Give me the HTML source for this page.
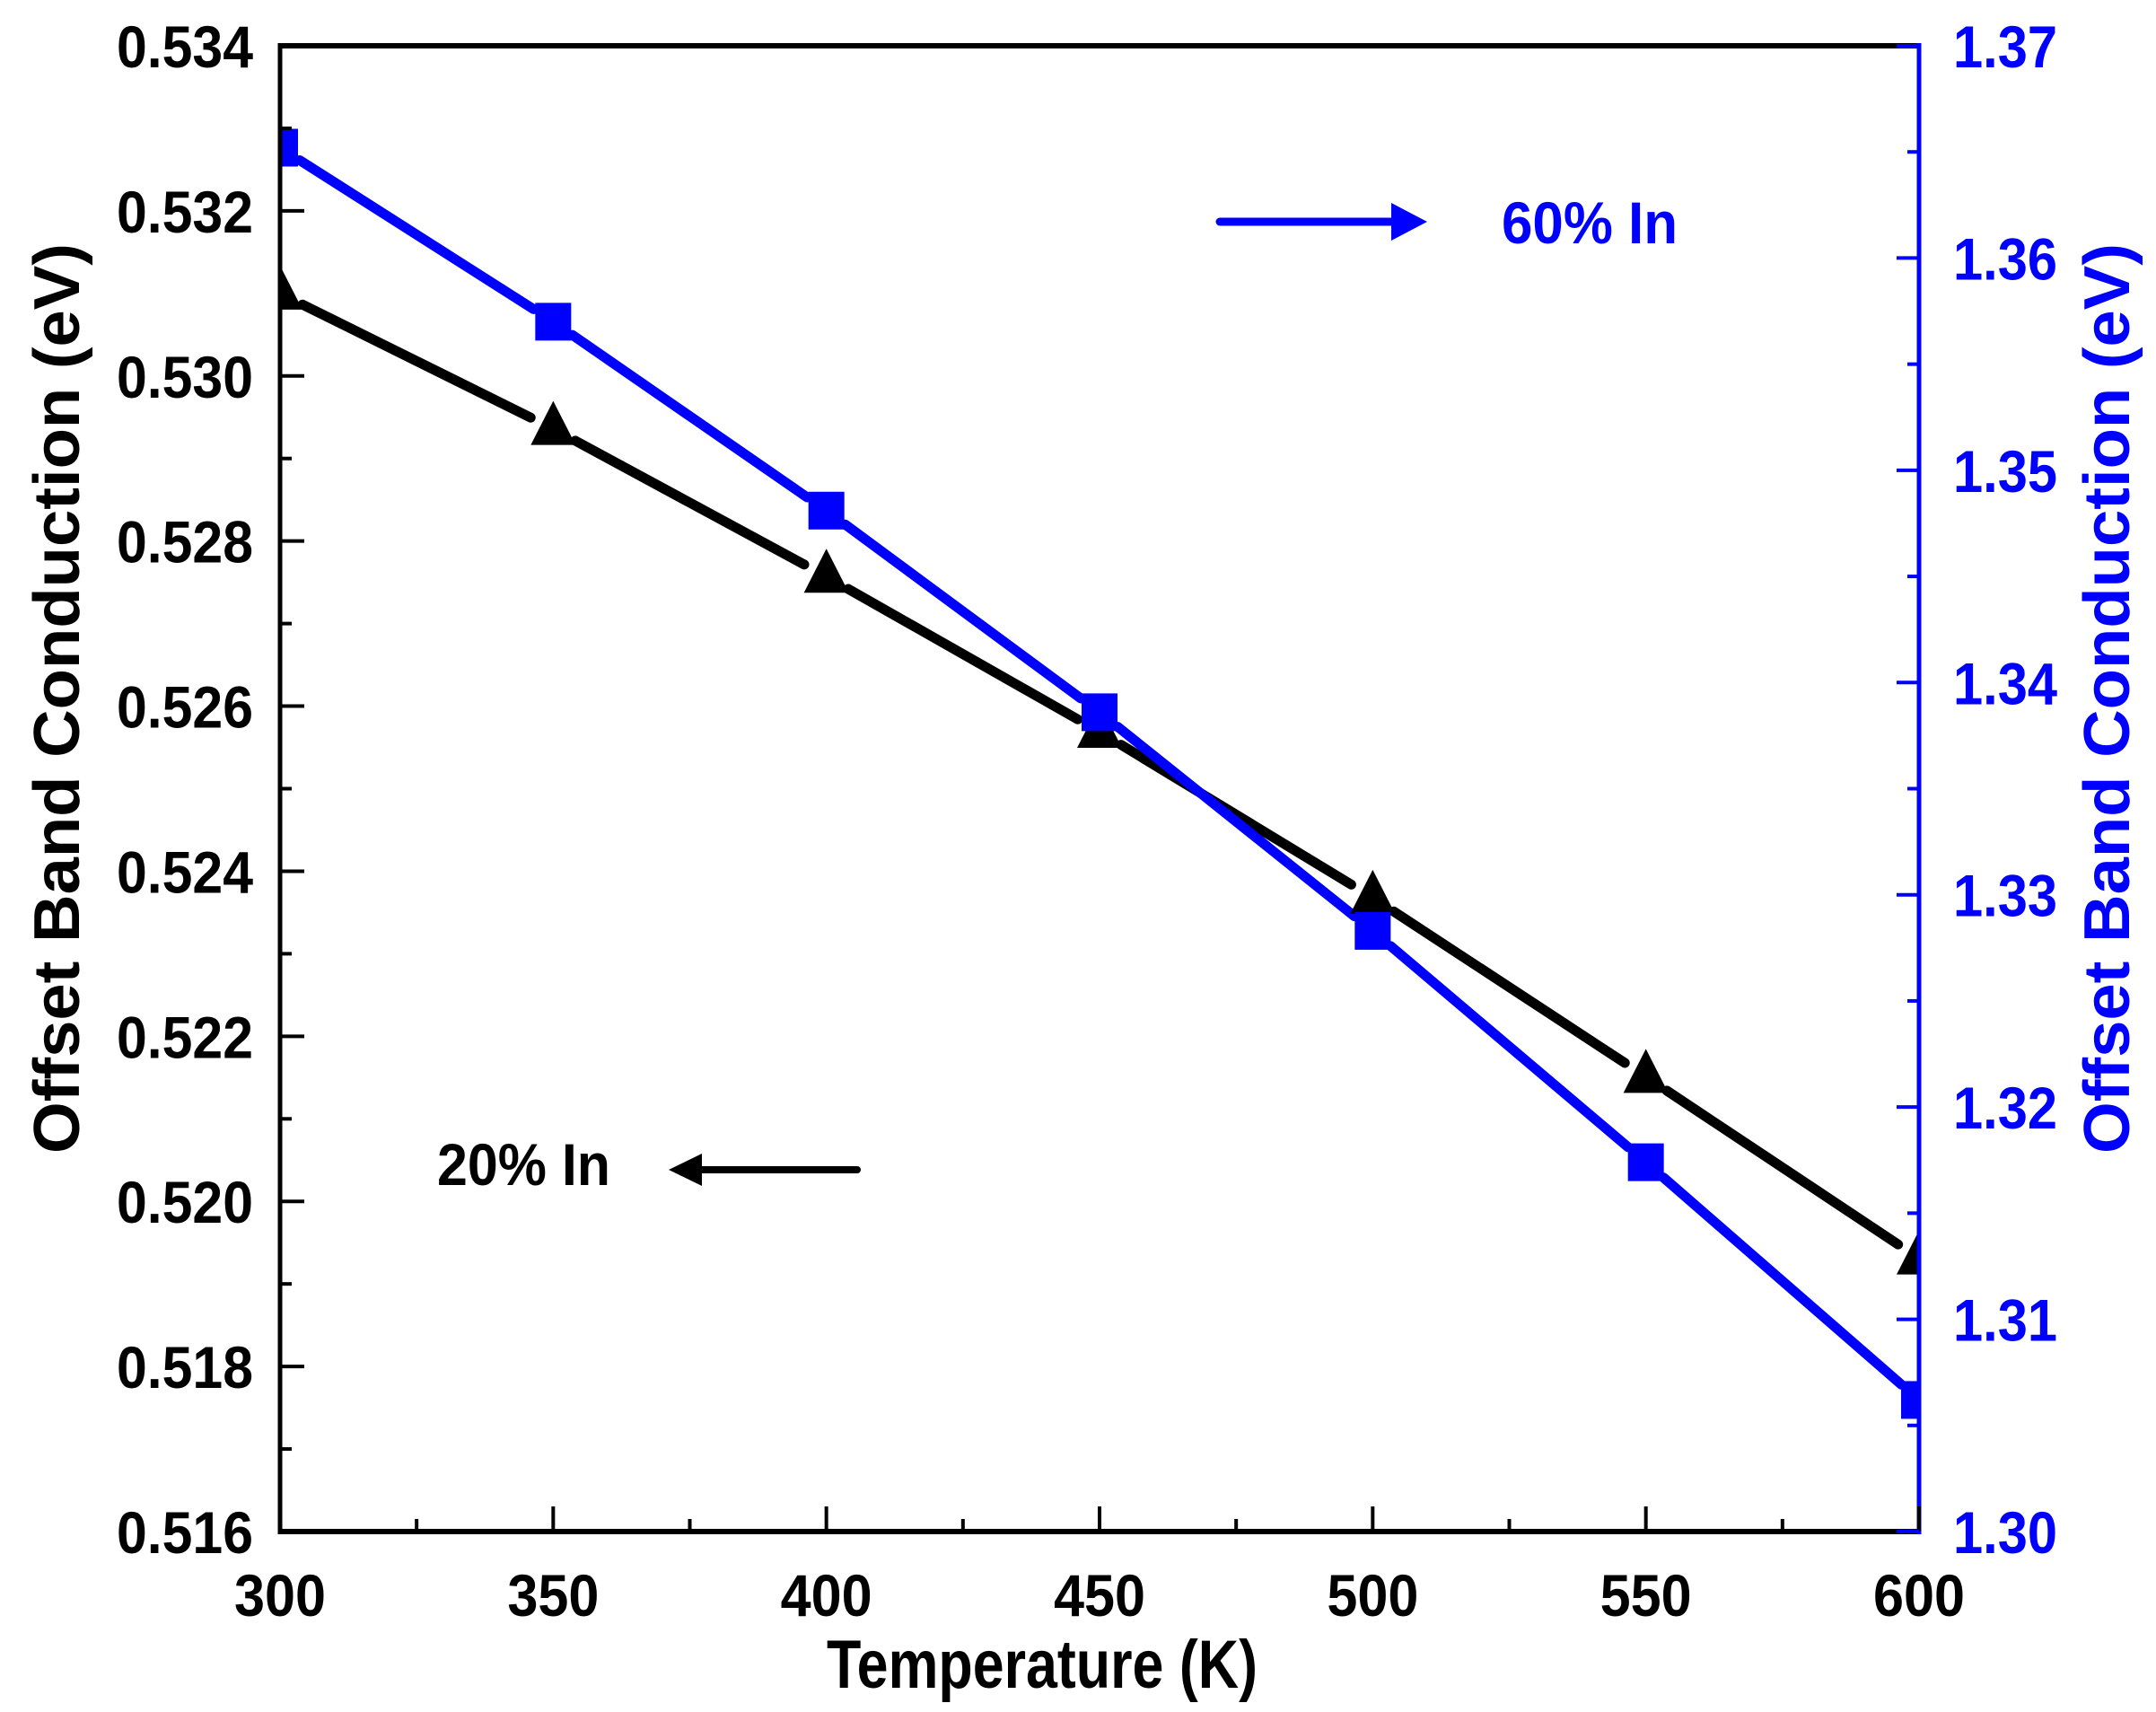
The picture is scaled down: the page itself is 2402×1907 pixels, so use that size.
<!DOCTYPE html>
<html><head><meta charset="utf-8"><style>
html,body{margin:0;padding:0;background:#fff;}
svg{display:block;}
text{font-family:"Liberation Sans Narrow","Liberation Sans",sans-serif;font-weight:bold;}
</style></head><body>
<svg id="chart" width="2402" height="1907" viewBox="0 0 2402 1907" xmlns="http://www.w3.org/2000/svg">
<g id="g"></g>
</svg>
<script>
const temps = [300, 350, 400, 450, 500, 550, 600];
const in20 = [0.53100, 0.52936, 0.52757, 0.52569, 0.52368, 0.52151, 0.51931];
const in60 = [1.3652, 1.3570, 1.3481, 1.3386, 1.3283, 1.3174, 1.3062];
const xTicks = ["300","350","400","450","500","550","600"];
const yLeftTicks = ["0.516","0.518","0.520","0.522","0.524","0.526","0.528","0.530","0.532","0.534"];
const yRightTicks = ["1.30","1.31","1.32","1.33","1.34","1.35","1.36","1.37"];

const L=312,R=2138,T=51,B=1706;
const NS="http://www.w3.org/2000/svg";
const g=document.getElementById('g');
function xs(v){return L+(v-300)/300*(R-L);}
function yl(v){return B-(v-0.516)/0.018*(B-T);}
function yr(v){return B-(v-1.30)/0.07*(B-T);}
function mk(tag,attrs,parent){const e=document.createElementNS(NS,tag);for(const k in attrs)e.setAttribute(k,attrs[k]);(parent||g).appendChild(e);return e;}

function drawSeries(vals,yf,color,gap,name){
  const grp=mk('g',{});
  
  
  for(let i=0;i<vals.length-1;i++){
    const x1=xs(temps[i]),y1=yf(vals[i]),x2=xs(temps[i+1]),y2=yf(vals[i+1]);
    const dx=x2-x1,dy=y2-y1,d=Math.hypot(dx,dy),ux=dx/d,uy=dy/d;
    const seg=mk('line',{x1:x1+ux*gap,y1:y1+uy*gap,x2:x2-ux*gap,y2:y2-uy*gap,stroke:color,'stroke-width':11,'stroke-linecap':'round'},grp);
    
    
  }
}
drawSeries(in20,yl,'#000',28,'in20');
drawSeries(in60,yr,'#0000ff',26,'in60');

temps.forEach((t,i)=>{
  const x=xs(t),y=yl(in20[i]);
  const p=mk('polygon',{points:`${x},${y-31} ${x-25},${y+18} ${x+25},${y+18}`,fill:'#000'});
  
  
});
temps.forEach((t,i)=>{
  const x=xs(t),y=yr(in60[i]);
  const r=mk('rect',{x:x-20,y:y-21,width:40,height:42,fill:'#0000ff'});
  
  
});

mk('rect',{x:0,y:0,width:L-2,height:1907,fill:'#fff'});
mk('rect',{x:R+2,y:0,width:300,height:1907,fill:'#fff'});

const ax=mk('g',{});


mk('line',{x1:L,y1:T,x2:R,y2:T,stroke:'#000','stroke-width':6},ax);
mk('line',{x1:L,y1:B,x2:R,y2:B,stroke:'#000','stroke-width':6},ax);
mk('line',{x1:L,y1:T-3,x2:L,y2:B+3,stroke:'#000','stroke-width':5},ax);
mk('line',{x1:R,y1:T-3,x2:R,y2:B+3,stroke:'#0000ff','stroke-width':5},ax);

for(let v=300;v<=600;v+=25){
  const major=(v%50===0);
  mk('line',{x1:xs(v),y1:B,x2:xs(v),y2:B-(major?28:14),stroke:'#000','stroke-width':4});
}
xTicks.forEach(s=>{
  const t=mk('text',{x:xs(+s),y:1800,'text-anchor':'middle','font-size':66,fill:'#000',textLength:102,lengthAdjust:'spacingAndGlyphs'});
  t.textContent=s;
  
  
});
for(let i=0;i<=18;i++){
  const v=0.516+i*0.001,major=(i%2===0);
  mk('line',{x1:L,y1:yl(v),x2:L+(major?27:13),y2:yl(v),stroke:'#000','stroke-width':4});
}
yLeftTicks.forEach(s=>{
  const t=mk('text',{x:282,y:yl(+s)+24,'text-anchor':'end','font-size':66,fill:'#000',textLength:152,lengthAdjust:'spacingAndGlyphs'});
  t.textContent=s;
  
  
});
for(let i=0;i<=14;i++){
  const v=1.30+i*0.005,major=(i%2===0);
  mk('line',{x1:R,y1:yr(v),x2:R-(major?25:13),y2:yr(v),stroke:'#0000ff','stroke-width':4});
}
yRightTicks.forEach(s=>{
  const t=mk('text',{x:2176,y:yr(+s)+24,'text-anchor':'start','font-size':66,fill:'#0000ff',textLength:116,lengthAdjust:'spacingAndGlyphs'});
  t.textContent=s;
  
  
});
</script>
<svg style="position:absolute;left:0;top:0" width="2402" height="1907" xmlns="http://www.w3.org/2000/svg">
<text x="1161" y="1880" text-anchor="middle" font-size="76" fill="#000" textLength="480" lengthAdjust="spacingAndGlyphs">Temperature (K)</text>
<text transform="translate(88,778) rotate(-90)" text-anchor="middle" font-size="72" fill="#000" textLength="1014" lengthAdjust="spacingAndGlyphs" style="font-family:'Liberation Sans',sans-serif">Offset Band Conduction (eV)</text>
<text transform="translate(2372,778) rotate(-90)" text-anchor="middle" font-size="72" fill="#0000ff" textLength="1014" lengthAdjust="spacingAndGlyphs" style="font-family:'Liberation Sans',sans-serif">Offset Band Conduction (eV)</text>
<g>
<line x1="1359" y1="247" x2="1565" y2="247" stroke="#0000ff" stroke-width="9" stroke-linecap="round"/>
<polygon points="1550,226 1590,247 1550,268" fill="#0000ff"/>
<text x="1673" y="271" font-size="66" fill="#0000ff" textLength="196" lengthAdjust="spacingAndGlyphs">60% In</text>
</g>
<g>
<line x1="955" y1="1303" x2="770" y2="1303" stroke="#000" stroke-width="8" stroke-linecap="round"/>
<polygon points="782,1285 745,1303 782,1321" fill="#000"/>
<text x="487" y="1320" font-size="66" fill="#000" textLength="193" lengthAdjust="spacingAndGlyphs">20% In</text>
</g>
</svg>
</body></html>
